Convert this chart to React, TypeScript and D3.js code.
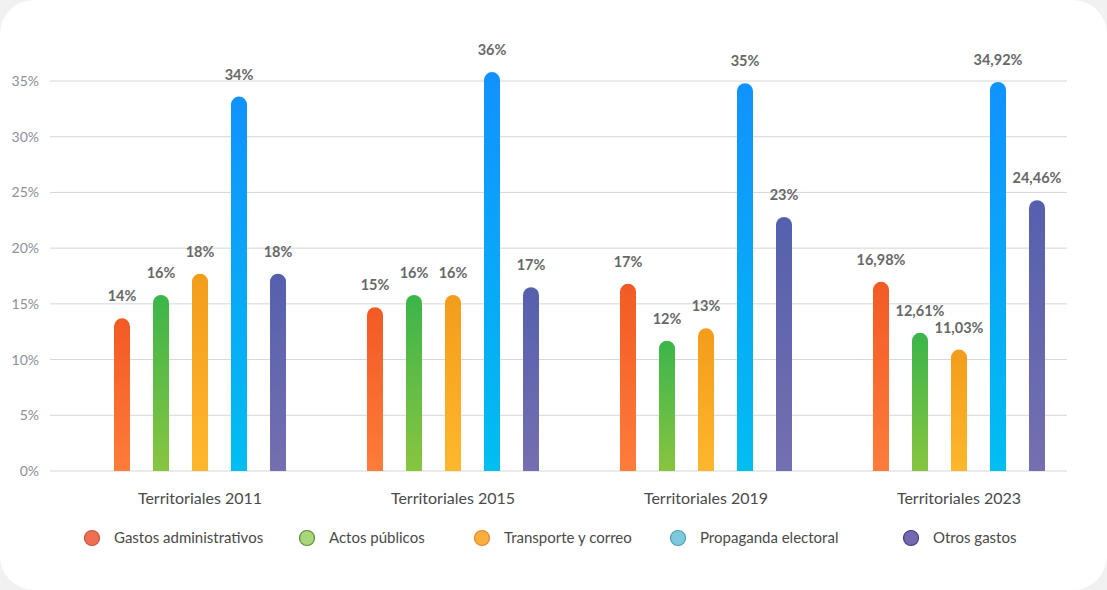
import React from "react";
import * as d3 from "d3";

const categories = ["Territoriales 2011", "Territoriales 2015", "Territoriales 2019", "Territoriales 2023"];
const seriesNames = ["Gastos administrativos", "Actos públicos", "Transporte y correo", "Propaganda electoral", "Otros gastos"];

// values per series (one entry per category)
const gastosAdministrativos = [13.7, 14.7, 16.8, 16.98];
const actosPublicos = [15.8, 15.8, 11.7, 12.4];
const transporteCorreo = [17.7, 15.8, 12.8, 10.9];
const propagandaElectoral = [33.6, 35.8, 34.8, 34.92];
const otrosGastos = [17.7, 16.5, 22.8, 24.3];

const labelsGastos = ["14%", "15%", "17%", "16,98%"];
const labelsActos = ["16%", "16%", "12%", "12,61%"];
const labelsTransporte = ["18%", "16%", "13%", "11,03%"];
const labelsPropaganda = ["34%", "36%", "35%", "34,92%"];
const labelsOtros = ["18%", "17%", "23%", "24,46%"];

const yTicks = [0, 5, 10, 15, 20, 25, 30, 35];

const seriesValues = [gastosAdministrativos, actosPublicos, transporteCorreo, propagandaElectoral, otrosGastos];
const seriesLabels = [labelsGastos, labelsActos, labelsTransporte, labelsPropaganda, labelsOtros];

const gradients = [
  ["#f25a24", "#ff7e3b"],
  ["#3bb54a", "#8dc63f"],
  ["#f39c1c", "#ffb92e"],
  ["#1192ff", "#00bff0"],
  ["#5560ad", "#7670b0"],
];
const legendFill = ["#ef6f52", "#a9d57b", "#fbad3e", "#7ccbdd", "#7668b0"];
const legendStroke = ["#c4553c", "#5e8a3c", "#d98b24", "#4f9fb2", "#463c82"];
const legendX = [92, 307, 482, 678, 911];

const W = 1107;
const H = 590;
const FONT = "Lato, 'Open Sans', sans-serif";

export default function App() {
  const y = d3.scaleLinear().domain([0, 35]).range([471, 81]);
  const x = d3.scaleBand<string>().domain(categories).range([73.5, 1085.5]);
  const inner = d3.scalePoint<string>().domain(seriesNames).range([-78, 78]);
  const barW = 16;

  return (
    <div style={{ position: "absolute", left: 0, top: 0, width: W, height: H, background: "#f1f1f1" }}>
      <svg width={W} height={H} style={{ display: "block" }}>
        <defs>
          {gradients.map((g, i) => (
            <linearGradient key={i} id={`g${i}`} x1="0" y1="0" x2="0" y2="1">
              <stop offset="0%" stopColor={g[0]} />
              <stop offset="100%" stopColor={g[1]} />
            </linearGradient>
          ))}
          <clipPath id="plotclip">
            <rect x={0} y={0} width={W} height={y(0)} />
          </clipPath>
        </defs>
        <rect x={0} y={0} width={W} height={H} rx={34} ry={34} fill="#ffffff" />
        {yTicks.map((t) => (
          <g key={t}>
            <line x1={50} x2={1067} y1={y(t)} y2={y(t)} stroke="#d6d6d6" strokeWidth={1} />
            <text x={39} y={y(t) + 5} textAnchor="end" fontFamily={FONT} fontSize={14} fill="#8c8f98">
              {t}%
            </text>
          </g>
        ))}
        <g clipPath="url(#plotclip)">
          {categories.map((c, ci) =>
            seriesNames.map((s, si) => {
              const cx = (x(c) as number) + x.bandwidth() / 2 + (inner(s) as number);
              const top = y(seriesValues[si][ci]);
              return (
                <rect
                  key={c + s}
                  x={cx - barW / 2}
                  y={top}
                  width={barW}
                  height={y(0) - top + 10}
                  rx={8}
                  ry={8}
                  fill={`url(#g${si})`}
                />
              );
            })
          )}
        </g>
        {categories.map((c, ci) =>
          seriesNames.map((s, si) => {
            const cx = (x(c) as number) + x.bandwidth() / 2 + (inner(s) as number);
            const top = y(seriesValues[si][ci]);
            return (
              <text
                key={"l" + c + s}
                x={cx}
                y={top - 17}
                textAnchor="middle"
                fontFamily={FONT}
                fontWeight={700}
                fontSize={14.5}
                fill="#686868"
              >
                {seriesLabels[si][ci]}
              </text>
            );
          })
        )}
        {categories.map((c) => (
          <text
            key={"c" + c}
            x={(x(c) as number) + x.bandwidth() / 2}
            y={504}
            textAnchor="middle"
            fontFamily={FONT}
            fontSize={16}
            fill="#4a4a4a"
          >
            {c}
          </text>
        ))}
        {seriesNames.map((s, i) => (
          <g key={"lg" + s}>
            <circle cx={legendX[i]} cy={538} r={7.5} fill={legendFill[i]} stroke={legendStroke[i]} strokeWidth={1.2} />
            <text x={legendX[i] + 22} y={543} fontFamily={FONT} fontSize={15} fill="#4a4a4a">
              {s}
            </text>
          </g>
        ))}
      </svg>
    </div>
  );
}
